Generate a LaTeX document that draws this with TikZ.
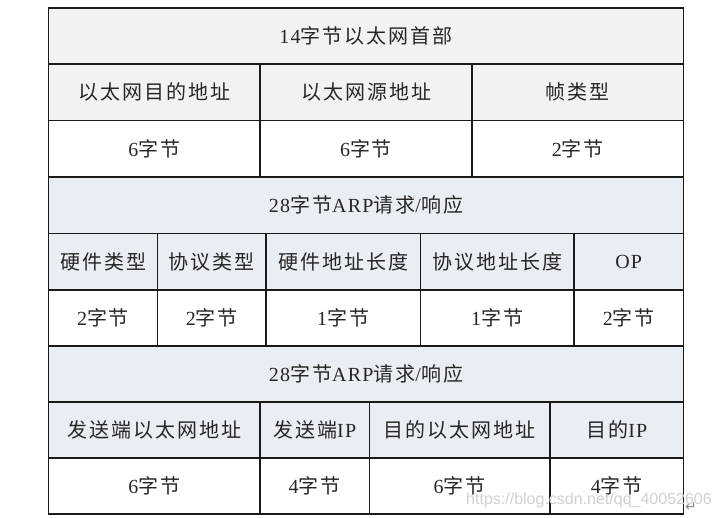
\documentclass[tikz,border=0pt]{standalone}
\usepackage{fontspec}
\setmainfont[LetterSpace=6]{Liberation Serif}
\newfontfamily\cjk[LetterSpace=10]{Noto Sans CJK SC}
\newfontfamily\wmfont{Liberation Sans}
\newfontfamily\symfont{DejaVu Sans}
\definecolor{hdrgray}{HTML}{F2F2F2}
\definecolor{hdrblue}{HTML}{E9EDF4}
\definecolor{linec}{HTML}{1A1A1A}
\tikzset{
  cell/.style={draw=linec, line width=1.5pt, rectangle, inner sep=0pt, outer sep=0pt,
    font=\fontsize{20}{22}\selectfont, text=black!85},
  gcell/.style={cell, fill=hdrgray},
  bcell/.style={cell, fill=hdrblue},
  wcell/.style={cell, fill=white},
}
\newcommand{\cellat}[7]{% style, name, x1, y1, x2, y2, text
  \node[#1, minimum width=#5-#3, minimum height=#6-#4] (#2) at ({(#3+#5)/2},{(#4+#6)/2}) {#7};}
\begin{document}
\begin{tikzpicture}[x=1pt,y=-1pt]
\useasboundingbox (0,0) rectangle (720,518);
\fill[white] (0,0) rectangle (720,518);
% row y-values
\def\ya{8}\def\yb{64.2}\def\yc{120.5}\def\yd{177}\def\ye{233.5}
\def\yf{290}\def\yg{346}\def\yh{402}\def\yi{458}\def\yj{514}
\def\xl{48.5}\def\xr{683.5}
% Ethernet header
\cellat{gcell}{eth}{\xl}{\ya}{\xr}{\yb}{14{\cjk 字节以太网首部}}
\cellat{gcell}{dst}{\xl}{\yb}{260}{\yc}{\cjk 以太网目的地址}
\cellat{gcell}{src}{260}{\yb}{472}{\yc}{\cjk 以太网源地址}
\cellat{gcell}{typ}{472}{\yb}{\xr}{\yc}{\cjk 帧类型}
\cellat{wcell}{dstb}{\xl}{\yc}{260}{\yd}{6{\cjk 字节}}
\cellat{wcell}{srcb}{260}{\yc}{472}{\yd}{6{\cjk 字节}}
\cellat{wcell}{typb}{472}{\yc}{\xr}{\yd}{2{\cjk 字节}}
% ARP 1
\cellat{bcell}{arpa}{\xl}{\yd}{\xr}{\ye}{28{\cjk 字节}ARP{\cjk 请求}/{\cjk 响应}}
\cellat{bcell}{hwt}{\xl}{\ye}{157.5}{\yf}{\cjk 硬件类型}
\cellat{bcell}{prt}{157.5}{\ye}{266}{\yf}{\cjk 协议类型}
\cellat{bcell}{hwl}{266}{\ye}{420.3}{\yf}{\cjk 硬件地址长度}
\cellat{bcell}{prl}{420.3}{\ye}{574}{\yf}{\cjk 协议地址长度}
\cellat{bcell}{op}{574}{\ye}{\xr}{\yf}{OP}
\cellat{wcell}{hwtb}{\xl}{\yf}{157.5}{\yg}{2{\cjk 字节}}
\cellat{wcell}{prtb}{157.5}{\yf}{266}{\yg}{2{\cjk 字节}}
\cellat{wcell}{hwlb}{266}{\yf}{420.3}{\yg}{1{\cjk 字节}}
\cellat{wcell}{prlb}{420.3}{\yf}{574}{\yg}{1{\cjk 字节}}
\cellat{wcell}{opb}{574}{\yf}{\xr}{\yg}{2{\cjk 字节}}
% ARP 2
\cellat{bcell}{arpb}{\xl}{\yg}{\xr}{\yh}{28{\cjk 字节}ARP{\cjk 请求}/{\cjk 响应}}
\cellat{bcell}{sha}{\xl}{\yh}{260}{\yi}{\cjk 发送端以太网地址}
\cellat{bcell}{spa}{260}{\yh}{369.3}{\yi}{{\cjk 发送端}IP}
\cellat{bcell}{tha}{369.3}{\yh}{550}{\yi}{\cjk 目的以太网地址}
\cellat{bcell}{tpa}{550}{\yh}{\xr}{\yi}{{\cjk 目的}IP}
\cellat{wcell}{shab}{\xl}{\yi}{260}{\yj}{6{\cjk 字节}}
\cellat{wcell}{spab}{260}{\yi}{369.3}{\yj}{4{\cjk 字节}}
\cellat{wcell}{thab}{369.3}{\yi}{550}{\yj}{6{\cjk 字节}}
\cellat{wcell}{tpab}{550}{\yi}{\xr}{\yj}{4{\cjk 字节}}
% watermark
\node[text=black!18, font=\wmfont\fontsize{16}{16}\selectfont, inner sep=0pt] (wm) at (589,500) {https://blog.csdn.net/qq\_40052606};
\node[text=black!45, font=\symfont\fontsize{14}{14}\selectfont, inner sep=0pt] (ret) at (691,507) {↵};
\end{tikzpicture}
\end{document}
